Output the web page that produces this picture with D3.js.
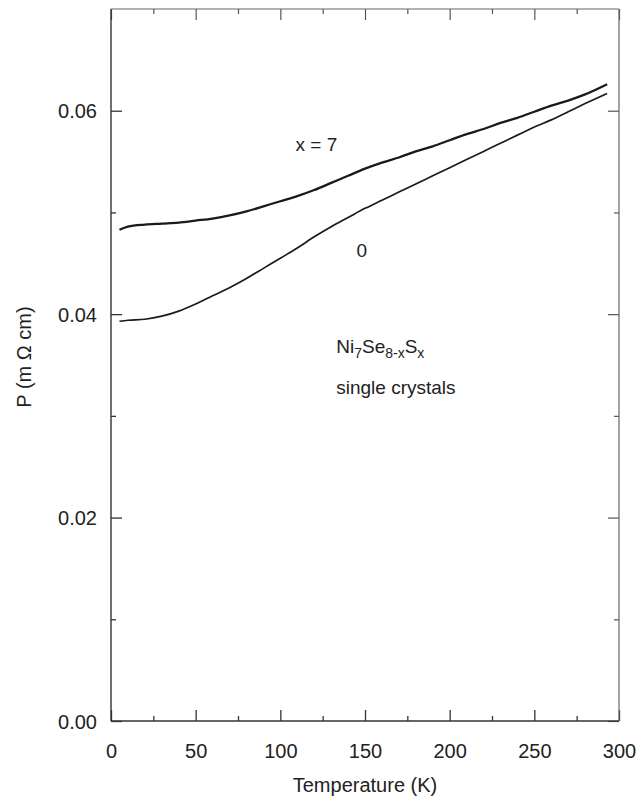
<!DOCTYPE html>
<html>
<head>
<meta charset="utf-8">
<script src="https://cdn.jsdelivr.net/npm/d3@7"></script>
<style>
  body { margin: 0; background: #fff; }
  text { font-family: "Liberation Sans", Arial, sans-serif; fill: #222; }
</style>
</head>
<body>
<div id="canvas"></div>
<script>
// Display variables
var total_width = 638, total_height = 798
var margin = {top: 9, right: 19, bottom: 77, left: 111}
var width = total_width - margin.left - margin.right
var height = total_height - margin.top - margin.bottom

// Data
var temp_x7 = [5, 10, 20, 30, 40, 50, 60, 70, 80, 90, 100, 110, 120, 130, 140, 150, 160, 170, 180, 190, 200, 210, 220, 230, 240, 250, 260, 270, 280, 293]
var rho_x7 = [0.0483, 0.0486, 0.0488, 0.0489, 0.0490, 0.0492, 0.0494, 0.0497, 0.0501, 0.0506, 0.0511, 0.0516, 0.0522, 0.0529, 0.0536, 0.0543, 0.0549, 0.0554, 0.0560, 0.0565, 0.0571, 0.0577, 0.0582, 0.0588, 0.0593, 0.0599, 0.0605, 0.0610, 0.0616, 0.0626]
var temp_x0 = [5, 10, 20, 30, 40, 50, 60, 70, 80, 90, 100, 110, 120, 130, 140, 150, 160, 170, 180, 190, 200, 210, 220, 230, 240, 250, 260, 270, 280, 293]
var rho_x0 = [0.0393, 0.0394, 0.0395, 0.0398, 0.0403, 0.0410, 0.0418, 0.0426, 0.0435, 0.0445, 0.0455, 0.0465, 0.0476, 0.0486, 0.0495, 0.0504, 0.0512, 0.0520, 0.0528, 0.0536, 0.0544, 0.0552, 0.0560, 0.0568, 0.0576, 0.0584, 0.0591, 0.0599, 0.0607, 0.0617]
var x_major = [0, 50, 100, 150, 200, 250, 300]
var x_minor = [25, 75, 125, 175, 225, 275]
var y_major = [0.00, 0.02, 0.04, 0.06]
var y_minor = [0.01, 0.03, 0.05]

var svg = d3.select("#canvas").append("svg").attr("width", total_width).attr("height", total_height)
var g = svg.append("g").attr("transform", "translate(" + margin.left + "," + margin.top + ")")

// Scales
var x = d3.scaleLinear().domain([0, 300]).range([0, width])
var y = d3.scaleLinear().domain([0, 0.07]).range([height, 0])

// Axes: ticks point inwards, major + minor
function style_axis(sel, col, w) {
    sel.select(".domain").remove()
    sel.selectAll(".tick line").attr("stroke", col).attr("stroke-width", w)
    sel.selectAll(".tick text").style("font-size", "20px").attr("fill", "#222")
        .style("font-family", "'Liberation Sans', Arial, sans-serif")
}
var bottom = g.append("g").attr("transform", "translate(0," + height + ")")
    .call(d3.axisBottom(x).tickValues(x_major).tickSizeInner(-11).tickPadding(23).tickFormat(d3.format("d")))
style_axis(bottom, "#333", 1.3)
var bottom_minor = g.append("g").attr("transform", "translate(0," + height + ")")
    .call(d3.axisBottom(x).tickValues(x_minor).tickSizeInner(-5).tickFormat(""))
style_axis(bottom_minor, "#333", 1.3)
var top_ax = g.append("g").call(d3.axisTop(x).tickValues(x_major).tickSizeInner(-11).tickFormat(""))
style_axis(top_ax, "#555", 1.2)
var top_minor = g.append("g").call(d3.axisTop(x).tickValues(x_minor).tickSizeInner(-5).tickFormat(""))
style_axis(top_minor, "#555", 1.2)

var left = g.append("g")
    .call(d3.axisLeft(y).tickValues(y_major).tickSizeInner(-11).tickPadding(14).tickFormat(d3.format(".2f")))
style_axis(left, "#333", 1.3)
left.selectAll(".tick text").attr("dy", "0.35em")
var left_minor = g.append("g").call(d3.axisLeft(y).tickValues(y_minor).tickSizeInner(-5).tickFormat(""))
style_axis(left_minor, "#333", 1.3)
var right_ax = g.append("g").attr("transform", "translate(" + width + ",0)")
    .call(d3.axisRight(y).tickValues(y_major).tickSizeInner(-11).tickFormat(""))
style_axis(right_ax, "#555", 1.2)
var right_minor = g.append("g").attr("transform", "translate(" + width + ",0)")
    .call(d3.axisRight(y).tickValues(y_minor).tickSizeInner(-5).tickFormat(""))
style_axis(right_minor, "#555", 1.2)

// Frame
g.append("line").attr("x1", 0).attr("x2", width).attr("y1", height).attr("y2", height).attr("stroke", "#333").attr("stroke-width", 1.4)
g.append("line").attr("x1", 0).attr("x2", 0).attr("y1", 0).attr("y2", height).attr("stroke", "#333").attr("stroke-width", 1.4)
g.append("line").attr("x1", 0).attr("x2", width).attr("y1", 0).attr("y2", 0).attr("stroke", "#666").attr("stroke-width", 1.2)
g.append("line").attr("x1", width).attr("x2", width).attr("y1", 0).attr("y2", height).attr("stroke", "#666").attr("stroke-width", 1.2)

// Curves
var line = d3.line().x(d => x(d[0])).y(d => y(d[1])).curve(d3.curveMonotoneX)
g.append("path").datum(d3.zip(temp_x7, rho_x7))
    .attr("fill", "none").attr("stroke", "#1a1a1a").attr("stroke-width", 2.3).attr("d", line)
g.append("path").datum(d3.zip(temp_x0, rho_x0))
    .attr("fill", "none").attr("stroke", "#1a1a1a").attr("stroke-width", 1.7).attr("d", line)

// Annotations
g.append("text").attr("x", x(109)).attr("y", y(0.0560)).style("font-size", "19px").text("x = 7")
g.append("text").attr("x", x(145)).attr("y", y(0.0456)).style("font-size", "19px").text("0")
var formula = g.append("text").attr("x", x(133)).attr("y", y(0.0362)).style("font-size", "19px")
formula.append("tspan").text("Ni")
formula.append("tspan").attr("dy", 5).style("font-size", "14px").text("7")
formula.append("tspan").attr("dy", -5).text("Se")
formula.append("tspan").attr("dy", 5).style("font-size", "14px").text("8-x")
formula.append("tspan").attr("dy", -5).text("S")
formula.append("tspan").attr("dy", 5).style("font-size", "14px").text("x")
g.append("text").attr("x", x(133)).attr("y", y(0.0321)).style("font-size", "19px").text("single crystals")

// Axis labels
g.append("text").attr("text-anchor", "middle")
    .attr("transform", "translate(" + (width / 2) + "," + (height + 71) + ")")
    .style("font-size", "20px").text("Temperature (K)")
g.append("text").attr("text-anchor", "middle")
    .attr("transform", "translate(" + (-80) + "," + (height / 2 - 8) + ") rotate(-90)")
    .style("font-size", "20px").text("P (m \u03A9 cm)")
</script>
</body>
</html>
